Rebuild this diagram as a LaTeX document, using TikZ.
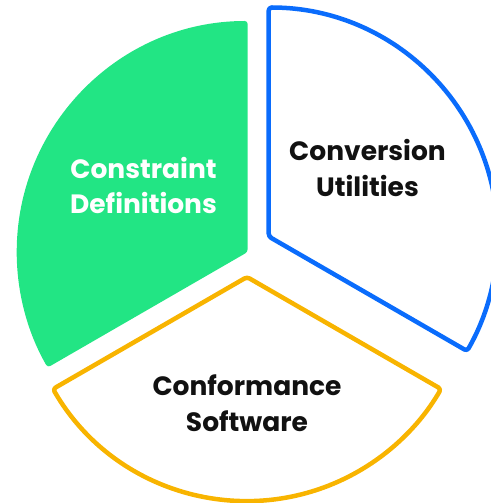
\documentclass[tikz,border=0pt]{standalone}
\usepackage{fontspec}
\setmainfont{Poppins}
\definecolor{pgreen}{RGB}{34,229,132}
\definecolor{pblue}{RGB}{10,108,252}
\definecolor{pyellow}{RGB}{248,180,0}
\definecolor{ptext}{RGB}{17,17,17}
\tikzset{
  sector/.style={rounded corners=3pt, line join=round},
  lbl/.style={anchor=base, inner sep=0pt, font=\fontsize{26.5}{31}\selectfont\bfseries},
}
\begin{document}
\begin{tikzpicture}[x=1pt,y=1pt]
\useasboundingbox (0,0) rectangle (490,503);
% apexes
\coordinate (G) at (247.7,251);
\coordinate (B) at (268.7,266.5);
\coordinate (Y) at (247,226);
% green sector
\fill[pgreen, sector] (G) -- ++(90:231) arc[start angle=90, end angle=210, radius=231] -- cycle;
% blue sector
\draw[pblue, line width=4.5pt, sector] (B) -- ++(90:229) arc[start angle=90, end angle=-30, radius=229] -- cycle;
% yellow sector
\draw[pyellow, line width=4.5pt, sector] (Y) -- ++(210:224) arc[start angle=210, end angle=330, radius=224] -- cycle;
% labels
\node[lbl, text=white] (g1) at (143.5,324.5) {Constraint};
\node[lbl, text=white] (g2) at (143.5,289) {Definitions};
\node[lbl, text=ptext] (b1) at (367.5,342.5) {Conversion};
\node[lbl, text=ptext] (b2) at (367.5,306.5) {Utilities};
\node[lbl, text=ptext] (y1) at (247,107) {Conformance};
\node[lbl, text=ptext] (y2) at (247,71) {Software};
\end{tikzpicture}
\end{document}
